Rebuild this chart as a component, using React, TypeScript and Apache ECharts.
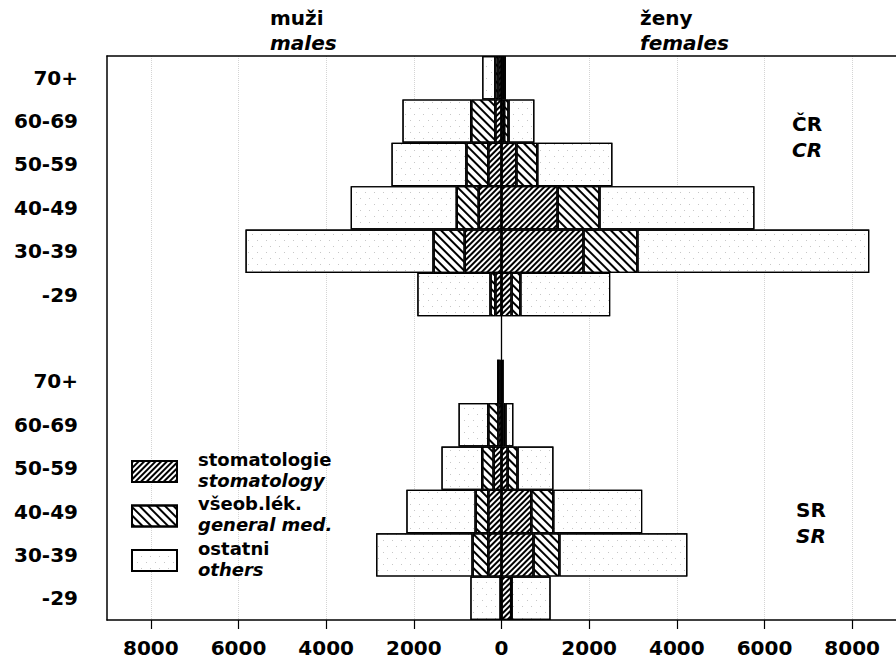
import React, { useEffect, useRef } from 'react';
import * as echarts from 'echarts';

const AGE_GROUPS = ['70+', '60-69', '50-59', '40-49', '30-39', '-29'];

// Czech Republic (ČR)
const CR_MALE_STOM = [70, 140, 300, 520, 840, 140];
const CR_MALE_GEN = [70, 550, 500, 500, 710, 110];
const CR_MALE_OTH = [300, 1570, 1710, 2420, 4290, 1670];
const CR_FEMALE_STOM = [30, 60, 340, 1280, 1870, 230];
const CR_FEMALE_GEN = [30, 100, 475, 955, 1230, 200];
const CR_FEMALE_OTH = [40, 590, 1715, 3535, 5290, 2050];

// Slovak Republic (SR)
const SR_MALE_STOM = [20, 70, 180, 300, 300, 10];
const SR_MALE_GEN = [30, 230, 260, 290, 360, 10];
const SR_MALE_OTH = [50, 680, 930, 1580, 2200, 690];
const SR_FEMALE_STOM = [10, 45, 140, 680, 730, 220];
const SR_FEMALE_GEN = [10, 45, 225, 500, 590, 10];
const SR_FEMALE_OTH = [30, 180, 820, 2030, 2920, 890];

const X_TICKS = [-8000, -6000, -4000, -2000, 0, 2000, 4000, 6000, 8000];
const X_MIN = -9000;
const X_MAX = 9000;

const NAMES = ['stomatologie', 'všeob.lék.', 'ostatni'];
const NAMES_EN = ['stomatology', 'general med.', 'others'];

const FONT = '"DejaVu Sans", sans-serif';

const combine = (cr: number[], sr: number[], sign: number) => [
  ...cr.map((v) => sign * v),
  null,
  ...sr.map((v) => sign * v),
];

const CATEGORIES = [...AGE_GROUPS, '', ...AGE_GROUPS];

const stomDecal = {
  symbol: 'rect',
  symbolSize: 1,
  dashArrayX: [1, 0],
  dashArrayY: [2, 2],
  rotation: -Math.PI / 4,
  color: '#000',
};
const genDecal = {
  symbol: 'rect',
  symbolSize: 1,
  dashArrayX: [1, 0],
  dashArrayY: [2, 4],
  rotation: Math.PI / 4,
  color: '#000',
};
const othDecal = {
  symbol: 'rect',
  symbolSize: 1,
  dashArrayX: [[1, 8], [0, 5, 1, 3]],
  dashArrayY: [1, 5],
  rotation: 0,
  color: 'rgba(0,0,0,0.22)',
};

export default function App() {
  const ref = useRef<HTMLDivElement>(null);
  useEffect(() => {
    if (!ref.current) return;
    const chart = echarts.init(ref.current, undefined, { renderer: 'svg' });

    const mk = (name: string, data: (number | null)[], decal: any, withLine = false) => {
      const s: any = {
        type: 'bar',
        name,
        stack: 'total',
        data,
        barCategoryGap: '0%',
        itemStyle: { color: '#fff', borderColor: '#000', borderWidth: 1.2, decal },
        emphasis: { disabled: true },
      };
      if (withLine) {
        s.markLine = {
          silent: true,
          symbol: ['none', 'none'],
          label: { show: false },
          lineStyle: { color: '#000', width: 1.3, type: 'solid' },
          data: [{ xAxis: 0 }],
        };
      }
      return s;
    };

    const option: any = {
      animation: false,
      backgroundColor: '#fff',
      grid: { left: 107, right: 0, top: 56, bottom: 46, containLabel: false },
      legend: {
        orient: 'vertical',
        left: 131,
        top: 450,
        padding: 0,
        itemWidth: 45,
        itemHeight: 21,
        itemGap: 0,
        selectedMode: false,
        data: NAMES,
        icon: 'rect',
        formatter: (name: string) => `{a|${name}}\n{b|${NAMES_EN[NAMES.indexOf(name)]}}\n{c| }`,
        textStyle: {
          color: '#000',
          rich: {
            a: { fontFamily: FONT, fontWeight: 'bold', fontSize: 18, lineHeight: 21, color: '#000', padding: [0, 0, 0, 16] },
            b: { fontFamily: FONT, fontWeight: 'bold', fontStyle: 'italic', fontSize: 18, lineHeight: 21, color: '#000', padding: [0, 0, 0, 16] },
            c: { fontFamily: FONT, fontSize: 4, lineHeight: 4, color: '#000' },
          },
        },
      },
      xAxis: [
        {
          type: 'value',
          min: X_MIN,
          max: X_MAX,
          position: 'bottom',
          axisLine: { show: true, onZero: false, lineStyle: { color: '#000', width: 1.5 } },
          axisTick: { show: true, length: 9, customValues: X_TICKS, lineStyle: { color: '#000', width: 1.2 } },
          axisLabel: {
            customValues: X_TICKS,
            formatter: (v: number) => String(Math.abs(v)),
            color: '#000',
            fontFamily: FONT,
            fontWeight: 'bold',
            fontSize: 20,
            margin: 18,
          },
          splitLine: { show: true, lineStyle: { color: '#d4d4d4', type: 'dotted', width: 1 } },
        },
        {
          type: 'value',
          min: X_MIN,
          max: X_MAX,
          position: 'top',
          axisLine: { show: true, onZero: false, lineStyle: { color: '#000', width: 1.5 } },
          axisTick: { show: false },
          axisLabel: { show: false },
          splitLine: { show: false },
        },
      ],
      yAxis: {
        type: 'category',
        data: CATEGORIES,
        inverse: true,
        axisLine: { show: true, onZero: false, lineStyle: { color: '#000', width: 1.5 } },
        axisTick: { show: false },
        axisLabel: {
          color: '#000',
          fontFamily: FONT,
          fontWeight: 'bold',
          fontSize: 20,
          margin: 29,
          padding: [10, 0, 0, 0],
        },
        splitLine: { show: false },
      },
      graphic: [
        { type: 'text', left: 270, top: 8, style: { text: 'muži', font: `bold 20px ${FONT}`, fill: '#000' } },
        { type: 'text', left: 270, top: 33, style: { text: 'males', font: `italic bold 20px ${FONT}`, fill: '#000' } },
        { type: 'text', left: 640, top: 8, style: { text: 'ženy', font: `bold 20px ${FONT}`, fill: '#000' } },
        { type: 'text', left: 640, top: 33, style: { text: 'females', font: `italic bold 20px ${FONT}`, fill: '#000' } },
        { type: 'text', left: 792, top: 114, style: { text: 'ČR', font: `bold 20px ${FONT}`, fill: '#000' } },
        { type: 'text', left: 792, top: 140, style: { text: 'CR', font: `italic bold 20px ${FONT}`, fill: '#000' } },
        { type: 'text', left: 796, top: 500, style: { text: 'SR', font: `bold 20px ${FONT}`, fill: '#000' } },
        { type: 'text', left: 796, top: 526, style: { text: 'SR', font: `italic bold 20px ${FONT}`, fill: '#000' } },
      ],
      series: [
        mk(NAMES[0], combine(CR_MALE_STOM, SR_MALE_STOM, -1), stomDecal, true),
        mk(NAMES[1], combine(CR_MALE_GEN, SR_MALE_GEN, -1), genDecal),
        mk(NAMES[2], combine(CR_MALE_OTH, SR_MALE_OTH, -1), othDecal),
        mk(NAMES[0], combine(CR_FEMALE_STOM, SR_FEMALE_STOM, 1), stomDecal),
        mk(NAMES[1], combine(CR_FEMALE_GEN, SR_FEMALE_GEN, 1), genDecal),
        mk(NAMES[2], combine(CR_FEMALE_OTH, SR_FEMALE_OTH, 1), othDecal),
      ],
    };
    chart.setOption(option);
    return () => chart.dispose();
  }, []);
  return (
    <div
      ref={ref}
      style={{ position: 'fixed', left: 0, top: 0, width: 896, height: 666, background: '#fff' }}
    />
  );
}
